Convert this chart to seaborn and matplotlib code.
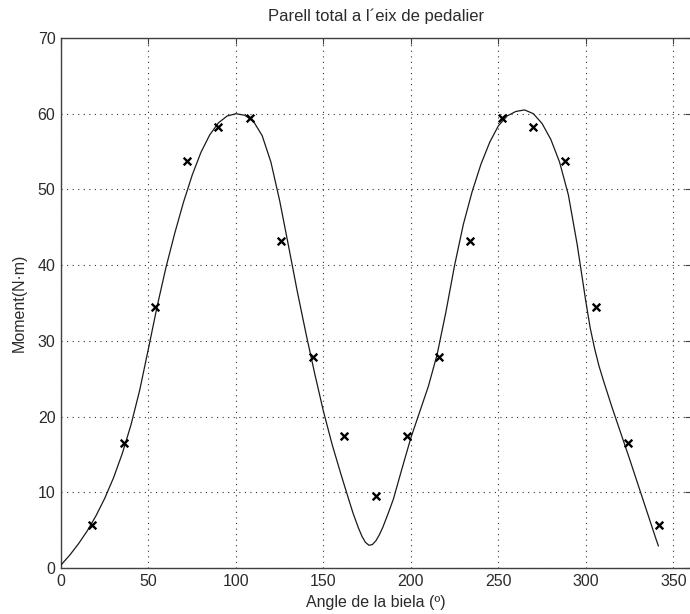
import matplotlib
matplotlib.use("Agg")
import matplotlib.pyplot as plt
import seaborn as sns
import pandas as pd

# Measured points (crank angle in degrees, torque in N·m)
point_angle = [18, 36, 54, 72, 90, 108, 126, 144, 162, 180,
               198, 216, 234, 252, 270, 288, 306, 324, 342]
point_moment = [5.7, 16.5, 34.5, 53.8, 58.3, 59.5, 43.2, 27.9, 17.5, 9.5,
                17.5, 27.9, 43.2, 59.5, 58.3, 53.8, 34.5, 16.5, 5.7]

# Fitted curve, values
curve_angle = [0, 5, 10, 15, 20, 25, 30, 35, 40, 45, 50, 55, 60, 65, 70, 75,
               80, 85, 90, 95, 100, 105, 110, 115, 120, 125, 130, 135, 140,
               145, 150, 155, 160, 164, 167, 170, 172, 174, 176, 178, 180,
               182, 184, 187, 190, 195, 200, 205, 210, 215, 220, 225, 230,
               235, 240, 245, 250, 255, 260, 265, 270, 275, 280, 285, 290,
               295, 297.5, 300, 302.5, 305, 307.5, 310, 312.5, 315, 320, 325,
               330, 335, 340, 341.5]
curve_moment = [0.4, 1.7, 3.2, 4.9, 6.9, 9.2, 11.9, 15.1, 18.9, 23.5, 29.0,
                34.6, 39.7, 44.2, 48.3, 51.9, 54.9, 57.2, 58.8, 59.7, 60.0,
                59.8, 59.0, 57.1, 53.6, 48.5, 42.6, 36.6, 31.0, 25.7, 20.7,
                16.3, 12.4, 9.4, 7.2, 5.3, 4.2, 3.4, 3.0, 3.1, 3.6, 4.4, 5.4,
                7.2, 9.1, 13.2, 17.2, 20.6, 24.0, 28.2, 33.8, 40.0, 45.4,
                49.7, 53.3, 56.2, 58.4, 59.7, 60.3, 60.5, 60.0, 58.7, 56.6,
                53.6, 49.3, 42.8, 39.0, 35.2, 31.7, 29.0, 26.7, 24.8, 23.0,
                21.2, 17.8, 14.4, 10.9, 7.4, 3.9, 2.9]

x_ticks = [0, 50, 100, 150, 200, 250, 300, 350]
y_ticks = [0, 10, 20, 30, 40, 50, 60, 70]

title_text = "Parell total a l\u00b4eix de pedalier"
x_label = "Angle de la biela (\u00ba)"
y_label = "Moment(N\u00b7m)"

sns.set_style("white")
plt.rcParams['font.family'] = ['Liberation Sans', 'DejaVu Sans']

text_col = "#2b2b2b"
fig = plt.figure(figsize=(6.9, 6.14), dpi=100)
ax = fig.add_axes([61 / 690, 1 - 568 / 614, 629.8 / 690, 530 / 614])

curve_df = pd.DataFrame({"angle": curve_angle, "moment": curve_moment})
pts_df = pd.DataFrame({"angle": point_angle, "moment": point_moment})

sns.lineplot(data=curve_df, x="angle", y="moment", ax=ax, color="#1a1a1a",
             linewidth=0.9, sort=False, estimator=None, zorder=3)
sns.scatterplot(data=pts_df, x="angle", y="moment", ax=ax, marker="x",
                color="black", s=30, linewidth=1.7, zorder=4)

ax.set_xlim(0, 360)
ax.set_ylim(0, 70)
ax.set_xticks(x_ticks)
ax.set_yticks(y_ticks)
ax.grid(True, color="black", linestyle=(0, (1, 4)), linewidth=0.8, alpha=0.8)
ax.set_axisbelow(True)
ax.tick_params(direction="in", length=4, width=0.8, top=True, right=True,
               labelsize=11.5, colors="#404040", labelcolor=text_col, pad=4)
for sp in ax.spines.values():
    sp.set_color("#404040")
    sp.set_linewidth(1.0)
    sp.set_visible(True)

ax.set_xlabel(x_label, fontsize=11.5, color=text_col, labelpad=5)
ax.set_ylabel(y_label, fontsize=11.5, color=text_col, labelpad=8)
ax.set_title(title_text, fontsize=12, color=text_col, pad=12)

fig.savefig("out.png", dpi=100, facecolor="white")
